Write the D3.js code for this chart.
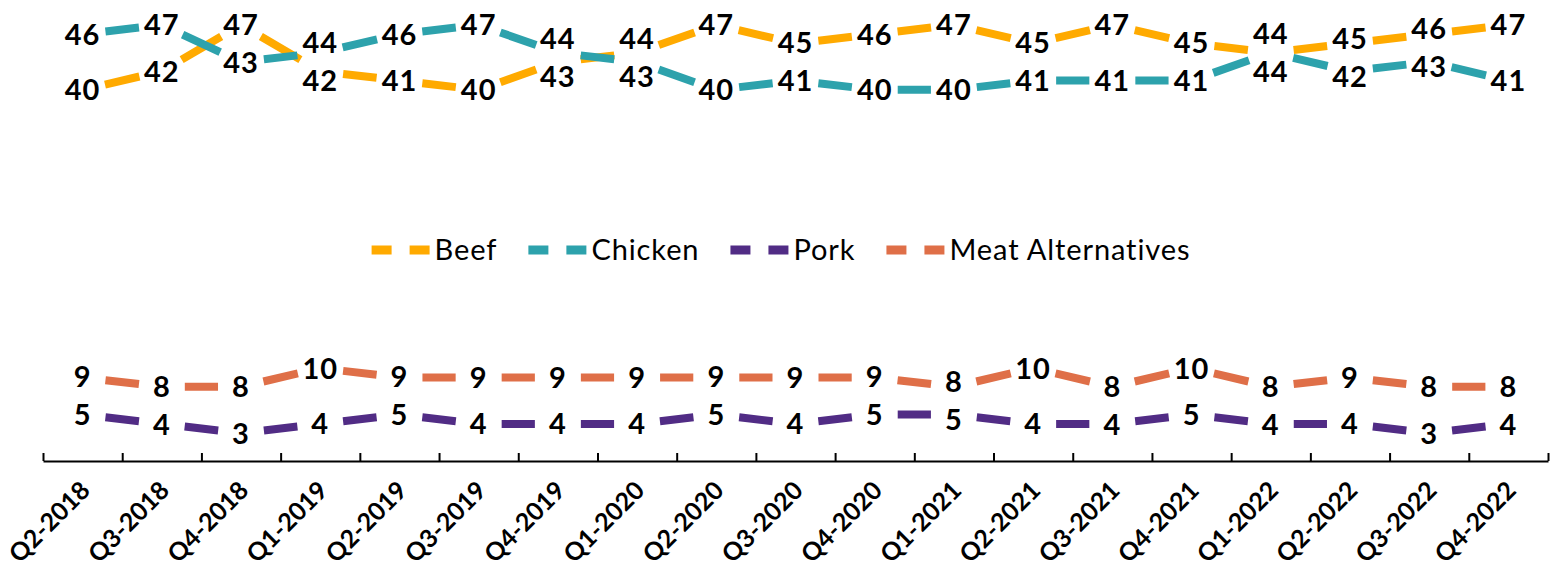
<html>
  <head>
    <script type="text/javascript" src="https://d3js.org/d3.v7.min.js"></script>
    <style>
      body { margin: 0; background: #ffffff; }
      text { font-family: Lato, "Open Sans", sans-serif; }
    </style>
  </head>
  <body>
    <script>

        // quarters on the x axis
        var quarters = ["Q2-2018", "Q3-2018", "Q4-2018", "Q1-2019", "Q2-2019", "Q3-2019", "Q4-2019",
                        "Q1-2020", "Q2-2020", "Q3-2020", "Q4-2020", "Q1-2021", "Q2-2021", "Q3-2021",
                        "Q4-2021", "Q1-2022", "Q2-2022", "Q3-2022", "Q4-2022"];

        // share of respondents per protein (percent)
        var beef    = [40, 42, 47, 42, 41, 40, 43, 44, 47, 45, 46, 47, 45, 47, 45, 44, 45, 46, 47];
        var chicken = [46, 47, 43, 44, 46, 47, 44, 43, 40, 41, 40, 40, 41, 41, 41, 44, 42, 43, 41];
        var pork    = [5, 4, 3, 4, 5, 4, 4, 4, 5, 4, 5, 5, 4, 4, 5, 4, 4, 3, 4];
        var meatAlt = [9, 8, 8, 10, 9, 9, 9, 9, 9, 9, 9, 8, 10, 8, 10, 8, 9, 8, 8];

        var seriesNames  = ["Beef", "Chicken", "Pork", "Meat Alternatives"];
        var seriesColors = ["#FFAA00", "#2DA2AC", "#512C85", "#DF6F48"];
        var seriesValues = [beef, chicken, pork, meatAlt];

        // dimension attributes
        var width = 1555,
            height = 567,
            plotLeft = 43,
            plotRight = 1548,
            axisY = 461;

        var svg = d3.select("body").append("svg")
            .attr("width", width)
            .attr("height", height);

        var x = d3.scaleBand()
            .domain(quarters)
            .range([plotLeft, plotRight]);

        var xEdge = d3.scaleLinear()
            .domain([0, quarters.length])
            .range([plotLeft, plotRight]);

        var y = d3.scaleLinear()
            .domain([0, 50])
            .range([axisY, -3]);

        function cx(i) { return x(quarters[i]) + x.bandwidth() / 2; }

        var series = seriesNames.map(function(name, k) {
            return {
                name: name,
                color: seriesColors[k],
                points: seriesValues[k].map(function(v, i) { return {i: i, v: v, x: cx(i), y: y(v)}; })
            };
        });

        // label positions: push the two labels of a pair apart when they get too close
        var minSep = 38;
        [[0, 1], [2, 3]].forEach(function(pair) {
            quarters.forEach(function(q, i) {
                var a = series[pair[0]].points[i], b = series[pair[1]].points[i];
                var up = a.y <= b.y ? a : b, low = a.y <= b.y ? b : a;
                up.ly = up.y;
                low.ly = low.y;
                var sep = low.y - up.y;
                if (sep < minSep) {
                    up.ly -= (minSep - sep) / 2;
                    low.ly += (minSep - sep) / 2;
                }
            });
        });

        // x axis: boundary ticks pointing up
        svg.append("g")
            .attr("transform", "translate(0," + axisY + ")")
            .call(d3.axisBottom(xEdge)
                .tickValues(d3.range(quarters.length + 1))
                .tickSize(-8)
                .tickSizeOuter(0)
                .tickFormat(""))
            .call(function(g) {
                g.select(".domain").attr("stroke", "#000").attr("stroke-width", 2);
                g.selectAll(".tick line").attr("stroke", "#000").attr("stroke-width", 2);
            });

        // x axis labels, rotated
        svg.append("g")
            .attr("transform", "translate(0," + axisY + ")")
            .call(d3.axisBottom(x).tickSize(0))
            .call(function(g) {
                g.select(".domain").remove();
                g.selectAll(".tick text")
                    .attr("y", 0)
                    .attr("dy", "0")
                    .attr("transform", "translate(9,31) rotate(-45)")
                    .style("text-anchor", "end")
                    .style("font-family", "Lato, sans-serif")
                    .style("font-weight", "bold")
                    .style("font-size", "25px")
                    .attr("fill", "#000");
            });

        // dashed segments: one dash centred between two neighbouring points
        var gap = 23;
        var seg = svg.append("g").attr("class", "lines")
            .selectAll("g")
            .data(series)
            .enter().append("g");

        seg.selectAll("line")
            .data(function(d) { return d3.pairs(d.points); })
            .enter().append("line")
            .attr("x1", function(d) { return d[0].x; })
            .attr("y1", function(d) { return d[0].y; })
            .attr("x2", function(d) { return d[1].x; })
            .attr("y2", function(d) { return d[1].y; })
            .attr("stroke", function() { return d3.select(this.parentNode).datum().color; })
            .attr("stroke-width", 8)
            .attr("stroke-dasharray", function(d) {
                var len = Math.hypot(d[1].x - d[0].x, d[1].y - d[0].y);
                return "0 " + gap + " " + Math.max(len - 2 * gap, 0) + " " + (gap + 1000);
            });

        // data labels
        svg.append("g").attr("class", "labels")
            .selectAll("g")
            .data(series)
            .enter().append("g")
            .selectAll("text")
            .data(function(d) { return d.points; })
            .enter().append("text")
            .attr("x", function(d) { return d.x; })
            .attr("y", function(d) { return d.ly; })
            .attr("dy", "0.36em")
            .attr("text-anchor", "middle")
            .style("font-weight", "bold")
            .style("font-size", "29px")
            .style("letter-spacing", "1px")
            .attr("fill", "#000")
            .text(function(d) { return d.v; });

        // legend
        var legend = svg.append("g").attr("class", "legend")
            .attr("transform", "translate(0,250)");

        var sampleW = 61, itemGap = 31, legendCenter = 781;

        var item = legend.selectAll("g")
            .data(series)
            .enter().append("g");

        item.append("line")
            .attr("x1", 0).attr("x2", sampleW)
            .attr("y1", 0).attr("y2", 0)
            .attr("stroke", function(d) { return d.color; })
            .attr("stroke-width", 9)
            .attr("stroke-dasharray", "20 18");

        item.append("text")
            .attr("x", sampleW + 2)
            .attr("dy", "0.36em")
            .style("font-size", "29px")
            .style("letter-spacing", "0.9px")
            .attr("fill", "#000")
            .text(function(d) { return d.name; });

        var widths = [];
        item.each(function() { widths.push(this.getBBox().width); });
        var total = d3.sum(widths) + itemGap * (widths.length - 1);
        var pos = legendCenter - total / 2;
        item.attr("transform", function(d, k) {
            var t = "translate(" + pos + ",0)";
            pos += widths[k] + itemGap;
            return t;
        });

    </script>
  </body>
</html>
